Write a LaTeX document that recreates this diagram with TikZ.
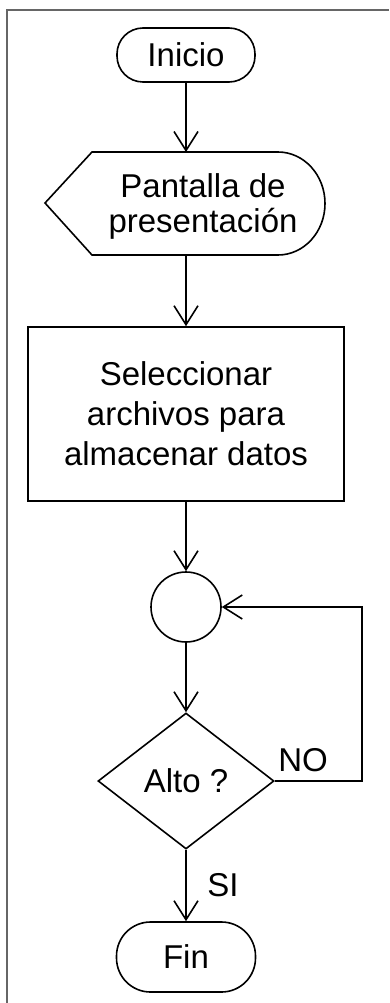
\documentclass[tikz,border=0pt]{standalone}
\usepackage{fontspec}
\setmainfont{Liberation Sans}
\usetikzlibrary{arrows.meta,shapes.geometric}
\begin{document}
\begin{tikzpicture}[
  x=1pt, y=-1pt,
  every node/.style={font=\fontsize{33}{40}\selectfont},
  term/.style={draw, line width=1.6pt, rectangle, minimum width=138, minimum height=54, rounded corners=26pt},
  proc/.style={draw, line width=1.6pt, rectangle, minimum width=316, minimum height=174, align=center},
  conn/.style={draw, line width=1.6pt, circle, minimum size=70, inner sep=0pt},
  decision/.style={draw, line width=1.6pt, diamond, minimum width=176, minimum height=136, shape aspect=1.29, inner sep=0pt},
  arrow/.style={-{Straight Barb[length=19pt,width=24pt,line width=1.6pt]}, line width=1.6pt},
  loopline/.style={arrow, line width=2.4pt},
  lbl/.style={inner sep=0pt}]
  \useasboundingbox (0,0) rectangle (389,1003);
  % frame
  \draw[line width=1.4pt, draw=black!60] (7,1003) -- (7,10) -- (389,10);
  % Terminals and steps
  \node[term] (inicio) at (186,55) {Inicio};
  \node[align=center, inner sep=0pt, font=\fontsize{33}{35}\selectfont] (pantalla) at (203,206) {Pantalla de\\presentación};
  \draw[line width=1.6pt] (45,203) -- (92,152) -- (278,152)
    arc[start angle=90, end angle=-90, x radius=47pt, y radius=51.5pt] -- (92,255) -- cycle;
  \coordinate (pantalla-n) at (186,152);
  \coordinate (pantalla-s) at (186,255);
  \node[proc] (seleccion) at (186,414) {Seleccionar\\archivos para\\almacenar datos};
  \node[conn] (conector) at (186,607) {};
  \node[decision] (alto) at (186,781) {Alto ?};
  \node[term, minimum width=139, minimum height=70, rounded corners=34pt] (fin) at (186,957) {Fin};
  % Connectors
  \draw[arrow] (inicio) -- (pantalla-n);
  \draw[arrow] (pantalla-s) -- (seleccion);
  \draw[arrow] (seleccion) -- (conector);
  \draw[arrow] (conector) -- (alto);
  \draw[arrow] (alto) -- (fin);
  \coordinate (retorno) at (362,781);
  \draw[loopline] (alto.east) -- (retorno) |- (conector.east);
  % Labels
  \node[lbl] (no) at (303,760) {NO};
  \node[lbl] (si) at (223,885) {SI};
\end{tikzpicture}
\end{document}
